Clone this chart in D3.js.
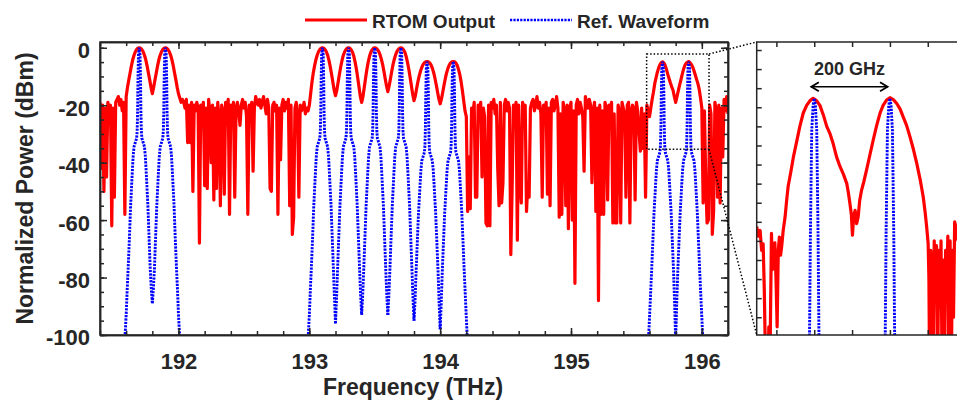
<!DOCTYPE html>
<html><head><meta charset="utf-8">
<script src="https://cdn.jsdelivr.net/npm/d3@7/dist/d3.min.js"></script>
<style>
body{margin:0;background:#fff;}
svg text{font-family:"Liberation Sans",Arial,sans-serif;font-weight:bold;fill:#262626;}
</style></head><body>
<svg id="c" width="957" height="406"></svg>
<script>
// ---------------- DATA ----------------
// RTOM output, sampled every 0.01 THz starting at 191.40 THz (dB)
const rtomStart = 191.40, rtomStep = 0.01;
const rtomPower = [
 -19,-42,-20,-50,-21,-45,-19,-22,-20,-62,   // 191.4
 -21,-52,-19,-18,-17,-20,-18,-22,-19,-58,   // 191.5
 -17,-13.8,-11.2,-8.8,-6.3,-4.2,-2.6,-1.4,-0.6,-0.2, // 191.6
 0,-0.2,-0.6,-1.4,-2.6,-4.2,-6.3,-8.8,-11.2,-13.8,   // 191.7
 -16,-13.8,-11.2,-8.8,-6.3,-4.2,-2.6,-1.4,-0.6,-0.2, // 191.8
 0,-0.2,-0.6,-1.4,-2.6,-4.2,-6.3,-8.8,-11.2,-13.8,   // 191.9
 -16,-17.5,-19,-18,-19,-21,-18,-33,-20,-33, // 192.0
 -19,-50,-20,-22,-19,-21,-68,-20,-23,-19,   // 192.1
 -48,-21,-49,-18,-22,-40,-20,-53,-21,-49,   // 192.2
 -19,-24,-55,-20,-22,-51,-19,-21,-18,-58,   // 192.3
 -20,-23,-19,-52,-21,-19,-22,-27,-20,-18,   // 192.4
 -21,-19,-24,-58,-20,-22,-19,-43,-21,-17,   // 192.5
 -19,-20,-18,-21,-19,-17,-20,-23,-18,-21,   // 192.6
 -49,-50,-20,-19,-22,-20,-58,-21,-39,-20,   // 192.7
 -18,-22,-19,-21,-18,-55,-20,-65,-59,-21,   // 192.8
 -19,-24,-52,-20,-22,-21,-19,-23,-21,-22,   // 192.9
 -20,-16,-12,-8.8,-6.3,-4.2,-2.6,-1.4,-0.6,-0.2,     // 193.0
 0,-0.2,-0.6,-1.4,-2.6,-4.4,-6.6,-9.2,-12,-14.8,     // 193.1
 -16.7,-14.8,-12,-9.2,-6.6,-4.4,-2.6,-1.4,-0.6,-0.2, // 193.2
 0,-0.2,-0.7,-1.6,-3,-5,-7.5,-10.5,-13.8,-17,        // 193.3
 -19,-17,-13.8,-10.5,-7.5,-5,-3,-1.6,-0.7,-0.2,      // 193.4
 0,-0.2,-0.6,-1.3,-2.4,-3.9,-5.8,-8.2,-10.8,-13.3,   // 193.5
 -15.3,-13.3,-10.8,-8.2,-5.8,-3.9,-2.4,-1.3,-0.6,-0.2, // 193.6
 0,-0.2,-0.7,-1.6,-3,-5,-7.4,-10.2,-13.2,-16.2,      // 193.7
 -18.4,-16.8,-14.2,-11.8,-9.8,-8.1,-6.8,-5.8,-5.2,-4.9, // 193.8
 -4.8,-4.9,-5.3,-6,-7.1,-8.6,-10.6,-12.9,-15.4,-17.8,   // 193.9
 -19.5,-17.8,-15.4,-12.9,-10.6,-8.6,-7.1,-6,-5.3,-4.9,  // 194.0
 -4.8,-4.9,-5.3,-6.1,-7.5,-9.3,-11.8,-15,-18.5,-22,     // 194.1
 -24,-57,-38,-56,-21,-23,-19,-52,-52,-20,   // 194.2
 -22,-19,-45,-21,-24,-61,-62,-20,-62,-19,   // 194.3
 -21,-18,-23,-20,-42,-55,-19,-54,-47,-20,   // 194.4
 -18,-22,-19,-21,-72,-49,-20,-23,-19,-67,   // 194.5
 -20,-46,-54,-19,-22,-20,-57,-47,-52,-21,   // 194.6
 -19,-18,-22,-20,-17,-21,-19,-23,-52,-20,   // 194.7
 -22,-19,-51,-21,-55,-19,-18,-22,-20,-17,   // 194.8
 -21,-59,-23,-58,-19,-22,-55,-20,-63,-21,   // 194.9
 -19,-60,-22,-82,-20,-18,-23,-19,-21,-24,   // 195.0
 -43,-17,-19,-21,-18,-20,-47,-22,-19,-57,   // 195.1
 -21,-88,-20,-58,-22,-58,-19,-21,-53,-20,   // 195.2
 -22,-19,-61,-23,-61,-61,-20,-22,-61,-19,   // 195.3
 -21,-23,-52,-20,-19,-61,-22,-20,-21,-53,   // 195.4
 -19,-22,-29,-36,-21,-35,-23,-52,-20,-22,   // 195.5
 -24,-21,-18,-15.5,-12.5,-10.5,-8.5,-7,-5.9,-5.2,      // 195.6
 -4.9,-5.3,-6.2,-7.6,-9.3,-10.8,-12.3,-13.6,-14.8,-17, // 195.7
 -19,-17,-15,-13,-11.2,-9.3,-7.5,-6.2,-5.4,-5,         // 195.8
 -4.8,-5.2,-5.8,-6.7,-8,-9.5,-11,-12.5,-14.5,-17.5,    // 195.9
 -21,-54,-22,-46,-61,-60,-20,-23,-65,-57,   // 196.0
 -19,-22,-52,-20,-54,-21,-38,-18,-22,-17,   // 196.1
 -23                                        // 196.2
];

// Reference waveform: channel centres (THz), offsets from centre (THz), levels (dB)
const refCenters = [191.7, 191.9, 193.1, 193.3, 193.5, 193.7, 193.9, 194.1, 195.7, 195.9];
const refOffsets = [-0.115,-0.108,-0.1,-0.092,-0.084,-0.075,-0.066,-0.054,-0.047,-0.04,-0.03,-0.02,-0.016,-0.0125,-0.01,-0.006,
                    0, 0.006,0.01,0.0125,0.016,0.02,0.03,0.04,0.047,0.054,0.066,0.075,0.084,0.092,0.1,0.108,0.115];
const refLobes = [
 [-108,-100,-93,-84,-76,-66,-55,-44,-38,-34.5,-33,-31.5,-29,-22,-12,-2.5, 0, -2.5,-12,-22,-29,-31.5,-33,-34.5,-38,-44,-55,-66,-77,-84,-89,null,null],
 [null,null,-89,-84,-77,-66,-55,-44,-38,-34.5,-33,-31.5,-29,-22,-12,-2.5, 0, -2.5,-12,-22,-29,-31.5,-33,-34.5,-38,-44,-55,-66,-76,-84,-93,-100,-108],
 [-108,-100,-93,-84,-76,-66,-55,-44,-38,-34.5,-33,-31.5,-29,-22,-12,-2.5, 0, -2.5,-12,-22,-29,-31.5,-33,-34.5,-38,-44,-55,-66,-77,-87,-96,null,null],
 [null,null,-96,-87,-77,-66,-55,-44,-38,-34.5,-33,-31.5,-29,-22,-12,-2.5, 0, -2.5,-12,-22,-29,-31.5,-33,-34.5,-38,-44,-55,-66,-77,-86,-93,null,null],
 [null,null,-93,-86,-77,-66,-55,-44,-38,-34.5,-33,-31.5,-29,-22,-12,-2.5, 0, -2.5,-12,-22,-29,-31.5,-33,-34.5,-38,-44,-55,-66,-77,-86,-93,null,null],
 [null,null,-93,-86,-77,-66,-55,-44,-38,-34.5,-33,-31.5,-29,-22,-12,-2.5, 0, -2.5,-12,-22,-29,-31.5,-33,-34.5,-38,-44,-55,-66,-77,-87,-95,null,null],
 [null,null,-95,-88,-78,-68,-58,-48,-42.5,-39.3,-37.8,-36.3,-33.8,-26.8,-16.8,-7.3,-4.8,-7.3,-16.8,-26.8,-33.8,-36.3,-37.8,-39.3,-42.5,-48,-58,-68,-78,-89,-98,null,null],
 [null,null,-98,-89,-78,-68,-58,-48,-42.5,-39.3,-37.8,-36.3,-33.8,-26.8,-16.8,-7.3,-4.8,-7.3,-16.8,-26.8,-33.8,-36.3,-37.8,-39.3,-42.5,-48,-58,-68,-78,-86,-94,-102,-108],
 [-108,-102,-94,-86,-78,-68,-58,-48,-42.5,-39.3,-37.8,-36.3,-33.8,-26.8,-16.8,-7.3,-4.8,-7.3,-16.8,-26.8,-33.8,-36.3,-37.8,-39.3,-42.5,-48,-58,-68,-78,-89,-102,null,null],
 [null,null,-102,-89,-78,-68,-58,-48,-42.5,-39.3,-37.8,-36.3,-33.8,-26.8,-16.8,-7.3,-4.8,-7.3,-16.8,-26.8,-33.8,-36.3,-37.8,-39.3,-42.5,-48,-58,-68,-78,-86,-94,-102,-108]
];

// Inset (zoom of 195.55-196.08 THz): RTOM trace [THz, dB]
const insetRtom = [
 [195.548,-18.5],[195.552,-19.5],[195.557,-18.9],[195.561,-21],[195.565,-20.3],[195.568,-25],[195.571,-32],[195.574,-40],
 [195.577,-36],[195.580,-29],[195.583,-33],[195.587,-19.2],[195.590,-23],[195.593,-20.5],[195.596,-20.2],[195.599,-24],
 [195.602,-29],[195.605,-21],[195.608,-19.6],[195.611,-21.5],[195.614,-20.6],[195.618,-18.9],[195.623,-17.5],[195.627,-15.8],
 [195.631,-14.3],[195.638,-12.8],[195.645,-11.2],[195.653,-9.7],[195.662,-8.0],[195.671,-6.6],[195.680,-5.8],[195.689,-5.3],
 [195.697,-5.06],[195.706,-5.3],[195.715,-5.8],[195.724,-6.8],[195.733,-8.0],[195.741,-8.7],[195.750,-9.8],[195.759,-11.2],
 [195.768,-12.2],[195.777,-13.0],[195.786,-14.0],[195.790,-14.9],[195.794,-16.0],[195.798,-17.2],[195.801,-19.4],[195.804,-17.5],
 [195.808,-16.8],[195.812,-18.2],[195.816,-17.5],[195.820,-15.8],[195.825,-14.7],[195.831,-13.8],[195.838,-12.6],[195.847,-11.0],
 [195.856,-9.4],[195.865,-7.9],[195.874,-6.6],[195.882,-5.8],[195.891,-5.24],[195.900,-5.0],[195.909,-5.2],[195.918,-5.6],
 [195.927,-6.2],[195.935,-7.0],[195.944,-7.9],[195.953,-9.1],[195.962,-10.4],[195.971,-11.9],[195.980,-13.6],[195.988,-15.4],
 [195.993,-17],[195.997,-18.5],[196.001,-20.3],[196.003,-24],[196.005,-35],[196.008,-21],[196.011,-24],[196.014,-35],
 [196.017,-20],[196.020,-26],[196.023,-20.5],[196.026,-35],[196.029,-21],[196.032,-27],[196.035,-20],[196.038,-35],
 [196.041,-22],[196.044,-35],[196.047,-21],[196.050,-25],[196.053,-19.5],[196.056,-35],[196.059,-20],[196.062,-35],
 [196.065,-21],[196.068,-28],[196.071,-18],[196.074,-18.5],[196.077,-19.5],[196.080,-20]
];
const insetRefCenters = [195.7, 195.9];
const insetRefOffsets = [-0.014,-0.0123,-0.01,-0.0066,-0.003,0,0.003,0.0066,0.01,0.0123,0.014];
const insetRefLobe    = [-36,-29.3,-18.9,-8.4,-5.8,-5.06,-5.8,-8.4,-18.9,-29.3,-36];

// Ticks and labels
const xMajor = [192, 193, 194, 195, 196];
const xMajorLabels = ["192", "193", "194", "195", "196"];
const xMinor = [191.4,191.6,191.8,192,192.2,192.4,192.6,192.8,193,193.2,193.4,193.6,193.8,194,194.2,194.4,194.6,194.8,195,195.2,195.4,195.6,195.8,196,196.2];
const yMajor = [0, -20, -40, -60, -80, -100];
const yMajorLabels = ["0", "-20", "-40", "-60", "-80", "-100"];
const yMinor = [0,-5,-10,-15,-20,-25,-30,-35,-40,-45,-50,-55,-60,-65,-70,-75,-80,-85,-90,-95,-100];
const insetXTicks = [195.6, 195.7, 195.8, 195.9, 196.0];
const insetYTicks = [0,-2,-4,-6,-8,-10,-12,-14,-16,-18,-20,-22,-24,-26,-28];
const seriesNames = ["RTOM Output", "Ref. Waveform"];

// ---------------- CHART ----------------
const svg = d3.select("#c");
const RED = "#ff0000", BLUE = "#0000ff", AX = "#262626";
const M = {l:100, r:728, t:42, b:335};
const x = d3.scaleLinear().domain([191.4, 196.2]).range([M.l, M.r]);
const y = d3.scaleLinear().domain([-100, 2]).range([M.b, M.t]);

const I = {l:756.7, r:965, t:42, b:335};
const xi = d3.scaleLinear().domain([195.548, 196.1]).range([I.l, I.l + 0.552*378.5]);
const yi = d3.scaleLinear().domain([-29.86, 0.84]).range([I.b, I.t]);

const defs = svg.append("defs");
defs.append("clipPath").attr("id","clipMain").append("rect")
  .attr("x",M.l).attr("y",M.t).attr("width",M.r-M.l).attr("height",M.b-M.t);
defs.append("clipPath").attr("id","clipInset").append("rect")
  .attr("x",I.l).attr("y",I.t).attr("width",957-I.l).attr("height",I.b-I.t);

const DASH = "2.2,1.2", BW = 2.9;

// main plot lines
const line = d3.line().defined(d => d[1] !== null).x(d => x(d[0])).y(d => y(d[1]));
const gMain = svg.append("g").attr("clip-path","url(#clipMain)");
const rtomPts = rtomPower.map((p,i) => [rtomStart + i*rtomStep, p]);
gMain.append("path").datum(rtomPts).attr("d", line)
  .attr("fill","none").attr("stroke",RED).attr("stroke-width",3.2).attr("stroke-linejoin","round");
refCenters.forEach((c,k) => {
  const pts = refOffsets.map((o,j) => [c + o, refLobes[k][j]]);
  gMain.append("path").datum(pts).attr("d", line)
    .attr("fill","none").attr("stroke",BLUE).attr("stroke-width",BW).attr("stroke-dasharray",DASH);
});

// main axes
function styleAxis(g){
  g.selectAll("path.domain").attr("stroke",AX).attr("stroke-width",1.5);
  g.selectAll(".tick line").attr("stroke",AX).attr("stroke-width",1.5);
}
const gxMinB = svg.append("g").attr("transform",`translate(0,${M.b})`)
  .call(d3.axisBottom(x).tickValues(xMinor).tickSize(-4).tickSizeOuter(0).tickFormat(""));
styleAxis(gxMinB);
const gxB = svg.append("g").attr("transform",`translate(0,${M.b})`)
  .call(d3.axisBottom(x).tickValues(xMajor).tickSize(-7).tickSizeOuter(0).tickFormat((d,i)=>xMajorLabels[i]));
styleAxis(gxB);
gxB.selectAll("text").attr("y",34).attr("dy",0).style("font-size","22px").attr("fill",AX);
const gxMinT = svg.append("g").attr("transform",`translate(0,${M.t})`)
  .call(d3.axisTop(x).tickValues(xMinor).tickSize(-4).tickSizeOuter(0).tickFormat(""));
styleAxis(gxMinT);
const gxT = svg.append("g").attr("transform",`translate(0,${M.t})`)
  .call(d3.axisTop(x).tickValues(xMajor).tickSize(-7).tickSizeOuter(0).tickFormat(""));
styleAxis(gxT);

const gyMinL = svg.append("g").attr("transform",`translate(${M.l},0)`)
  .call(d3.axisLeft(y).tickValues(yMinor).tickSize(-4).tickSizeOuter(0).tickFormat(""));
styleAxis(gyMinL);
const gyL = svg.append("g").attr("transform",`translate(${M.l},0)`)
  .call(d3.axisLeft(y).tickValues(yMajor).tickSize(-7).tickSizeOuter(0).tickPadding(10).tickFormat((d,i)=>yMajorLabels[i]));
styleAxis(gyL);
gyL.selectAll("text").attr("dy","0.45em").style("font-size","22px").attr("fill",AX);
const gyMinR = svg.append("g").attr("transform",`translate(${M.r},0)`)
  .call(d3.axisRight(y).tickValues(yMinor).tickSize(-4).tickSizeOuter(0).tickFormat(""));
styleAxis(gyMinR);
const gyR = svg.append("g").attr("transform",`translate(${M.r},0)`)
  .call(d3.axisRight(y).tickValues(yMajor).tickSize(-7).tickSizeOuter(0).tickFormat(""));
styleAxis(gyR);
// frame
svg.append("rect").attr("x",M.l).attr("y",M.t).attr("width",M.r-M.l).attr("height",M.b-M.t)
  .attr("fill","none").attr("stroke",AX).attr("stroke-width",1.5);

// axis titles
svg.append("text").attr("x",(M.l+M.r)/2 - 1).attr("y",395).attr("text-anchor","middle")
  .style("font-size","23px").text("Frequency (THz)");
svg.append("text").attr("transform",`translate(33,${(M.t+M.b)/2}) rotate(-90)`).attr("text-anchor","middle")
  .style("font-size","23px").text("Normalized Power (dBm)");

// legend
const lg = svg.append("g");
lg.append("line").attr("x1",305).attr("x2",367).attr("y1",20).attr("y2",20)
  .attr("stroke",RED).attr("stroke-width",3);
lg.append("text").attr("x",372).attr("y",28).style("font-size","19px").attr("fill","#000").text(seriesNames[0]);
lg.append("line").attr("x1",510).attr("x2",572).attr("y1",20).attr("y2",20)
  .attr("stroke",BLUE).attr("stroke-width",2.6).attr("stroke-dasharray",DASH);
lg.append("text").attr("x",577).attr("y",28).style("font-size","19px").attr("fill","#000").text(seriesNames[1]);

// ---------------- INSET ----------------
const lineI = d3.line().x(d => xi(d[0])).y(d => yi(d[1]));
const gIn = svg.append("g").attr("clip-path","url(#clipInset)");
gIn.append("path").datum(insetRtom).attr("d", lineI)
  .attr("fill","none").attr("stroke",RED).attr("stroke-width",3.2).attr("stroke-linejoin","round");
insetRefCenters.forEach(c => {
  const pts = insetRefOffsets.map((o,j) => [c + o, insetRefLobe[j]]);
  gIn.append("path").datum(pts).attr("d", lineI)
    .attr("fill","none").attr("stroke",BLUE).attr("stroke-width",BW).attr("stroke-dasharray",DASH);
});
const giB = svg.append("g").attr("transform",`translate(0,${I.b})`)
  .call(d3.axisBottom(xi).tickValues(insetXTicks).tickSize(-5).tickSizeOuter(0).tickFormat(""));
styleAxis(giB);
const giT = svg.append("g").attr("transform",`translate(0,${I.t})`)
  .call(d3.axisTop(xi).tickValues(insetXTicks).tickSize(-5).tickSizeOuter(0).tickFormat(""));
styleAxis(giT);
const giL = svg.append("g").attr("transform",`translate(${I.l},0)`)
  .call(d3.axisLeft(yi).tickValues(insetYTicks).tickSize(-5).tickSizeOuter(0).tickFormat(""));
styleAxis(giL);
giB.select("path.domain").remove(); giT.select("path.domain").remove(); giL.select("path.domain").remove();
svg.append("path").attr("d",`M957,${I.t}H${I.l}V${I.b}H957`)
  .attr("fill","none").attr("stroke",AX).attr("stroke-width",1.5);

// 200 GHz annotation
const ay = 86.7, ax1 = xi(195.691), ax2 = xi(195.895);
svg.append("line").attr("x1",ax1).attr("x2",ax2).attr("y1",ay).attr("y2",ay).attr("stroke","#000").attr("stroke-width",1.5);
svg.append("path").attr("d",`M${ax1+8},${ay-4.5}L${ax1+0.5},${ay}L${ax1+8},${ay+4.5}`)
  .attr("fill","none").attr("stroke","#000").attr("stroke-width",1.8);
svg.append("path").attr("d",`M${ax2-8},${ay-4.5}L${ax2-0.5},${ay}L${ax2-8},${ay+4.5}`)
  .attr("fill","none").attr("stroke","#000").attr("stroke-width",1.8);
svg.append("text").attr("x",(ax1+ax2)/2).attr("y",75).attr("text-anchor","middle")
  .style("font-size","18px").attr("fill","#000").text("200 GHz");

// zoom box and connectors
const dot = {stroke:"#000", "stroke-width":1.5, "stroke-dasharray":"1.5,2", fill:"none"};
const bx1 = x(195.578), bx2 = x(196.055), by1 = 54, by2 = 149.3;
const zb = svg.append("g");
zb.append("rect").attr("x",bx1).attr("y",by1).attr("width",bx2-bx1).attr("height",by2-by1);
zb.append("line").attr("x1",bx2).attr("y1",by1).attr("x2",I.l).attr("y2",I.t);
zb.append("line").attr("x1",bx2).attr("y1",by2).attr("x2",I.l).attr("y2",I.b);
zb.selectAll("*").each(function(){ const s=d3.select(this); Object.entries(dot).forEach(([k,v])=>s.attr(k,v)); });
</script>
</body></html>
